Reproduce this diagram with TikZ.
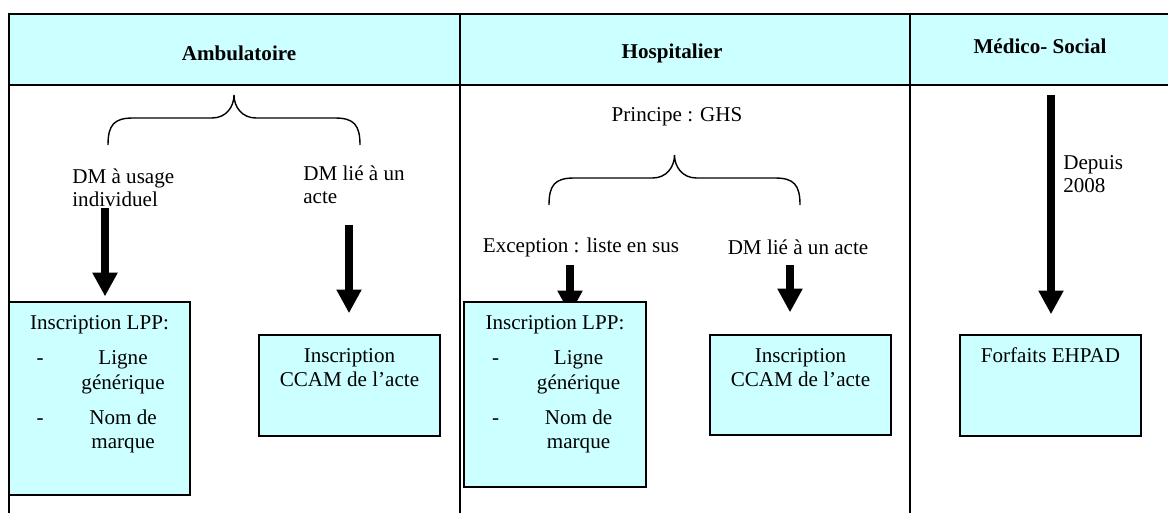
\documentclass[tikz,border=0pt]{standalone}
\usepackage{fontspec}
\setmainfont{LiberationSerif}[Extension=.ttf,UprightFont=*-Regular,BoldFont=*-Bold,ItalicFont=*-Italic,BoldItalicFont=*-BoldItalic]
\usepackage{tikz}
\usetikzlibrary{arrows.meta,calc,backgrounds}

\definecolor{bleuclair}{HTML}{CCFFFF}

% accolade ouverte vers le bas : x gauche, x droite, y du bas
\newcommand{\accolade}[3]{%
  \draw[line width=0.8pt] (#1,#3) .. controls (#1,#3-20) and (#1+6,#3-27) .. (#1+25,#3-27)
    -- ({(#1+#2)/2-22},#3-27) .. controls ({(#1+#2)/2-8},#3-27) and ({(#1+#2)/2},#3-38) .. ({(#1+#2)/2},#3-50)
    .. controls ({(#1+#2)/2},#3-38) and ({(#1+#2)/2+8},#3-27) .. ({(#1+#2)/2+22},#3-27)
    -- (#2-25,#3-27) .. controls (#2-6,#3-27) and (#2,#3-20) .. (#2,#3);
}

\begin{document}
\begin{tikzpicture}[x=0.02cm,y=-0.02cm,
    font=\fontsize{12}{13}\selectfont,
    cadre/.style={line width=1.1pt},
    entete/.style={font=\fontsize{12}{13}\selectfont\bfseries},
    boite/.style={draw,fill=bleuclair,line width=0.8pt,inner sep=0pt,minimum width=3.62cm},
    texte/.style={anchor=base,inner sep=0pt,font=\fontsize{12}{14}\selectfont},
    fleche/.style={line width=4.5pt,-{Triangle[length=13.5pt,width=13.5pt]}}]
  \useasboundingbox (0,0) rectangle (1168,513);

  % tableau
  \fill[bleuclair] (9,14) rectangle (1168,85);
  \draw[cadre] (1168,14) -- (9,14) -- (9,513);
  \draw[cadre] (9,85) -- (1168,85);
  \foreach \x in {460,910}
    \draw[cadre] (\x,14) -- (\x,513);

  \node[entete] (amb) at (239,53) {Ambulatoire};
  \node[entete] (hosp) at (672,53) {Hospitalier};
  \node[entete] (medico) at (1040,46) {Médico- Social};

  % ambulatoire
  \accolade{108}{360}{145}
  \node[anchor=west,align=left,inner sep=0pt] (usage) at (72,188) {DM à usage\\individuel};
  \node[anchor=west,align=left,inner sep=0pt] (acteA) at (303,185) {DM lié à un\\acte};

  \node[boite,minimum height=3.86cm] (lppA) at (99.5,398.5) {};
  \node[boite,minimum height=2.02cm] (ccamA) at (349.5,385.5) {};

  % hospitalier
  \node (principe) at (677,117) {Principe : GHS};
  \accolade{549}{800}{205}
  \node (exception) at (581,247) {Exception : liste en sus};
  \node (acteH) at (798,247) {DM lié à un acte};

  \node[boite,minimum width=3.64cm,minimum height=3.7cm] (lppH) at (555,394.5) {};
  \node[boite,minimum height=2cm] (ccamH) at (800.5,385) {};

  % medico-social
  \node[anchor=west,align=left,inner sep=0pt] (depuis) at (1063,174) {Depuis\\2008};
  \node[boite,minimum height=2.02cm] (ehpad) at (1050.5,385.5) {};

  % textes des boites
  \foreach \b in {lppA,lppH}
    \node[texte] (\b txt) at ($(\b.north)+(0,28)$) {\begin{tabular}[t]{@{\hspace{9.7pt}}c@{\hspace{13.1pt}}c@{}}
      \multicolumn{2}{c}{Inscription LPP:}\\[6pt]
      - & Ligne\\
        & générique\\[6pt]
      - & Nom de\\
        & marque
    \end{tabular}};
  \foreach \b in {ccamA,ccamH}
    \node[texte] (\b txt) at ($(\b.north)+(0,28)$) {\begin{tabular}[t]{@{}c@{}}Inscription\\CCAM de l'acte\end{tabular}};
  \node[texte] (ehpadtxt) at ($(ehpad.north)+(0,28)$) {Forfaits EHPAD};

  % fleches
  \coordinate (a1) at (105,208);
  \coordinate (a2) at (349,225);
  \coordinate (h1) at (570,265);
  \coordinate (h2) at (790,265);
  \coordinate (m1) at (1051,95);
  \begin{scope}[on background layer]
    \draw[fleche,shorten >=2.8pt] (a1) -- (a1 |- lppA.north);
    \draw[fleche,shorten >=12pt] (a2) -- (a2 |- ccamA.north);
    \draw[fleche,shorten >=-7.4pt] (h1) -- (h1 |- lppH.north);
    \draw[fleche,shorten >=12.5pt] (h2) -- (h2 |- ccamH.north);
    \draw[fleche,shorten >=11.4pt] (m1) -- (m1 |- ehpad.north);
  \end{scope}
\end{tikzpicture}
\end{document}
